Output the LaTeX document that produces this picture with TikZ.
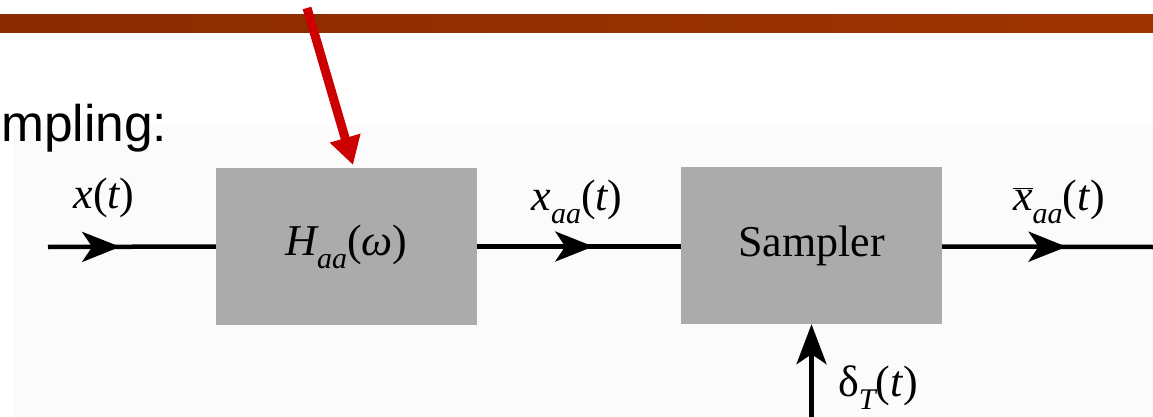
\documentclass[tikz,border=0pt]{standalone}
\usepackage{fontspec}
\setmainfont{Liberation Serif}
\newfontfamily\arialf{Liberation Sans}
\usetikzlibrary{arrows.meta,decorations.markings}
\definecolor{barL}{HTML}{8A2B00}
\definecolor{barR}{HTML}{9E3400}
\definecolor{boxgray}{HTML}{ABABAB}
\definecolor{redarrow}{HTML}{CC0000}
\definecolor{scan}{HTML}{FBFBFB}
\newcommand\subs[1]{\raisebox{-0.3em}{\fontsize{30}{30}\selectfont\itshape #1}}
\begin{document}
\begin{tikzpicture}[x=1pt,y=-1pt,
  blk/.style={draw=none,fill=boxgray,minimum width=261pt,minimum height=157pt,inner sep=0pt,font=\fontsize{44}{44}\selectfont},
  sig/.style={line width=4.5pt,postaction={decorate,decoration={markings,mark=at position #1 with {\arrow{Stealth[length=38pt,width=30pt,inset=10pt]}}}}},
  lab/.style={anchor=base,inner sep=0pt,font=\fontsize{44}{44}\selectfont},
  feed/.style={line width=4.5pt,-{Stealth[length=40pt,width=30pt,inset=10pt]}},
  pointer/.style={redarrow,line width=9pt,-{Triangle[length=28pt,width=30pt]}}
]
\useasboundingbox (0,0) rectangle (1153,417);
\fill[white] (0,0) rectangle (1153,417);
\fill[scan] (13,125) rectangle (1153,417);
\shade[left color=barL,right color=barR] (0,15) rectangle (1153,33);

\node[anchor=base west,inner sep=0pt,font=\arialf\fontsize{51.5}{51.5}\selectfont] (title) at (1,142) {mpling:};

\node[blk] (h) at (346.5,246.5) {\itshape H\subs{aa}\upshape(\itshape ω\upshape)};
\node[blk] (s) at (811.5,245.5) {Sampler};

\coordinate (in) at (48,247);
\coordinate (out) at (1153,247);
\coordinate (d) at (811.5,417);
\draw[sig=0.43] (in) -- (h.west);
\draw[sig=0.57] (h.east) -- (s.west |- h.east);
\draw[sig=0.59] (s.east |- h.east) -- (out);
\draw[feed] (d) -- (s.south);

\node[lab] (lx) at (104,208) {\itshape x\upshape(\itshape t\upshape)};
\node[lab] (lxaa) at (577,210) {\itshape x\subs{aa}\upshape(\itshape t\upshape)};
\node[lab] (lxb) at (1059,210) {$\overline{\mbox{\itshape x}}$\subs{aa}(\textit{t})};
\node[lab,anchor=base west] (ld) at (838,396) {δ\subs{T}(\textit{t})};

\coordinate (r0) at (307,8);
\coordinate (r1) at (353,165);
\draw[pointer] (r0) -- (r1);
\end{tikzpicture}
\end{document}
